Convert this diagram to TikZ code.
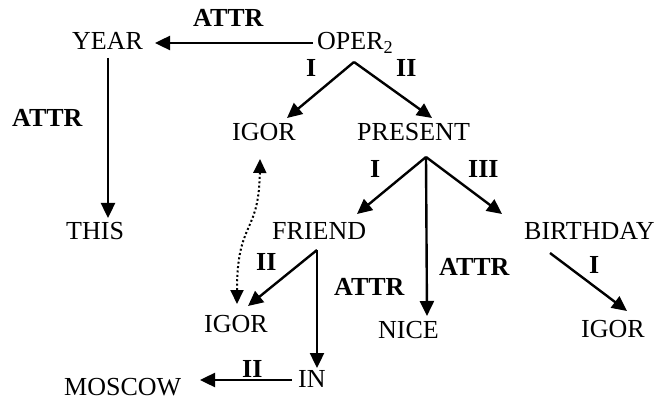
\documentclass[tikz,border=0pt]{standalone}
\usepackage{fontspec}
\setmainfont{Liberation Serif}
\usetikzlibrary{arrows.meta}
\begin{document}
\begin{tikzpicture}[x=1pt,y=-1pt,
  word/.style={anchor=base west,inner sep=0pt,font=\fontsize{26}{30}\selectfont},
  rel/.style={anchor=base west,inner sep=0pt,font=\fontsize{26}{30}\selectfont\bfseries},
  arr/.style={line width=2.4pt,-{Triangle[length=15pt,width=14pt]}},
  coref/.style={line width=2pt,dash pattern=on 2pt off 2.4pt,
    {Triangle[length=14pt,width=13pt]}-{Triangle[length=14pt,width=13pt]}}]
\useasboundingbox (0,0) rectangle (659,401);

% words of the tree
\node[word] (year)     at (72,50)   {YEAR};
\node[word] (oper)     at (317,50)  {OPER\textsubscript{2}};
\node[word] (this)     at (66,240)  {THIS};
\node[word] (igorA)    at (232,141) {IGOR};
\node[word] (present)  at (357,141) {PRESENT};
\node[word] (friend)   at (272,240) {FRIEND};
\node[word] (birthday) at (524,240) {BIRTHDAY};
\node[word] (igorB)    at (204,332) {IGOR};
\node[word] (nice)     at (378,338) {NICE};
\node[word] (igorC)    at (581,337) {IGOR};
\node[word] (in)       at (298,387) {IN};
\node[word] (moscow)   at (64,395)  {MOSCOW};

% relation labels
\node[rel] (lA) at (193,27)  {ATTR};
\node[rel] (lB) at (12,127)  {ATTR};
\node[rel] (lC) at (306,77)  {I};
\node[rel] (lD) at (396,77)  {II};
\node[rel] (lE) at (370,178) {I};
\node[rel] (lF) at (468,178) {III};
\node[rel] (lG) at (256,270) {II};
\node[rel] (lH) at (334,295) {ATTR};
\node[rel] (lJ) at (439,275) {ATTR};
\node[rel] (lK) at (589,273) {I};
\node[rel] (lL) at (242,377) {II};

% connector end points
\coordinate (operW)   at (313,43);
\coordinate (yearE)   at (155,43);
\coordinate (yearS)   at (108,58);
\coordinate (thisN)   at (108,218);
\coordinate (operS)   at (354,62);
\coordinate (igorAe)  at (287,118);
\coordinate (presW)   at (432,118);
\coordinate (presS)   at (426,157);
\coordinate (friendE) at (357,214);
\coordinate (niceN)   at (427,316);
\coordinate (birthW)  at (502,214);
\coordinate (friendS) at (317,250);
\coordinate (igorBe)  at (248,306);
\coordinate (inN)     at (317,368);
\coordinate (birthS)  at (550,253);
\coordinate (igorCn)  at (627,311);
\coordinate (inW)     at (292,380);
\coordinate (moscowE) at (200,380);
\coordinate (igorAs)  at (260,159);
\coordinate (igorBn)  at (237,304);

% dependency arrows
\draw[arr] (operW) -- (yearE);
\draw[arr] (yearS) -- (thisN);
\draw[arr] (operS) -- (igorAe);
\draw[arr] (operS) -- (presW);
\draw[arr] (presS) -- (friendE);
\draw[arr] (presS) -- (niceN);
\draw[arr] (presS) -- (birthW);
\draw[arr] (friendS) -- (igorBe);
\draw[arr] (friendS) -- (inN);
\draw[arr] (birthS) -- (igorCn);
\draw[arr] (inW) -- (moscowE);

% coreference link
\draw[coref] (igorAs) .. controls (259,235) and (237,220) .. (igorBn);
\end{tikzpicture}
\end{document}
